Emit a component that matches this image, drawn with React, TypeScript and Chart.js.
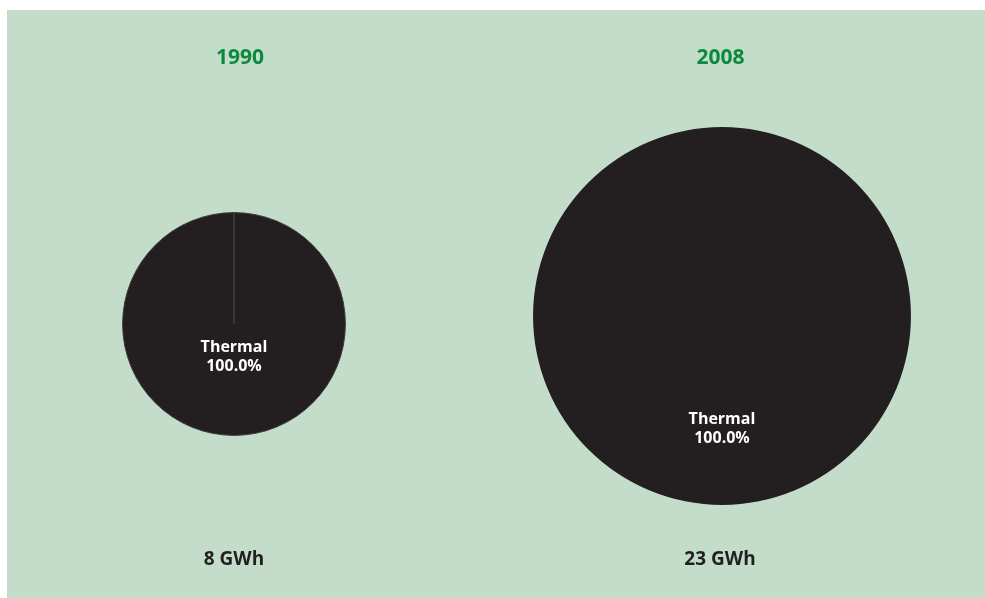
import React, { useEffect, useRef } from "react";
import { Chart, registerables } from "chart.js";

Chart.register(...registerables);

// ---- data ----
const years = ["1990", "2008"];
const totalsGWh = [8, 23];
const sourceLabels = ["Thermal"];
const shares1990 = [100.0];
const shares2008 = [100.0];
const sourceColors = ["#231f20"];

const BG = "#c4ddcb";
const GREEN = "#0b8a3e";
const DARK = "#231f20";
const FONT = "'Open Sans', 'DejaVu Sans', sans-serif";

type PanelCfg = {
  year: string;
  total: number;
  shares: number[];
  padRight: number;
  padTop: number;
  yearX: number;
  totalX: number;
  labelFrac: number;
  border: number;
};

const K = 39.4; // radius scale: area proportional to total

function makePlugin(cfg: PanelCfg) {
  return {
    id: "panelText",
    afterDraw(chart: any) {
      const ctx = chart.ctx as CanvasRenderingContext2D;
      ctx.save();
      ctx.textAlign = "center";
      ctx.textBaseline = "middle";
      ctx.fillStyle = GREEN;
      ctx.font = `bold 21px ${FONT}`;
      ctx.fillText(cfg.year, cfg.yearX, 48);
      ctx.fillStyle = DARK;
      ctx.font = `bold 19px ${FONT}`;
      ctx.fillText(`${cfg.total} GWh`, cfg.totalX, 550);

      const meta = chart.getDatasetMeta(0);
      meta.data.forEach((arc: any, i: number) => {
        const v = cfg.shares[i];
        if (!v) return;
        const mid = (arc.startAngle + arc.endAngle) / 2;
        const r = arc.outerRadius * cfg.labelFrac;
        const x = arc.x + Math.cos(mid) * r;
        const y = arc.y + Math.sin(mid) * r;
        ctx.fillStyle = "#ffffff";
        ctx.font = `bold 16px ${FONT}`;
        ctx.fillText(sourceLabels[i], x, y - 9.5);
        ctx.fillText(`${v.toFixed(1)}%`, x, y + 9.5);
      });
      ctx.restore();
    },
  };
}

function Panel({ cfg, left }: { cfg: PanelCfg; left: number }) {
  const ref = useRef<HTMLCanvasElement | null>(null);
  useEffect(() => {
    if (!ref.current) return;
    const chart = new Chart(ref.current, {
      type: "pie",
      data: {
        labels: sourceLabels,
        datasets: [
          {
            data: cfg.shares,
            backgroundColor: sourceColors,
            borderColor: "#423e3f",
            borderWidth: cfg.border,
            radius: K * Math.sqrt(cfg.total),
          } as any,
        ],
      },
      options: {
        responsive: false,
        animation: false,
        devicePixelRatio: 1,
        layout: { padding: { top: cfg.padTop, right: cfg.padRight, left: 0, bottom: 0 } },
        plugins: {
          legend: { display: false },
          tooltip: { enabled: false },
          title: { display: false },
        },
        events: [],
      },
      plugins: [makePlugin(cfg)],
    });
    return () => chart.destroy();
  }, []);
  return (
    <canvas
      ref={ref}
      width={489}
      height={588}
      style={{ position: "absolute", left, top: 0, width: 489, height: 588 }}
    />
  );
}

export default function App() {
  const panels: PanelCfg[] = [
    {
      year: years[0],
      total: totalsGWh[0],
      shares: shares1990,
      padRight: 35,
      padTop: 40,
      yearX: 233,
      totalX: 227,
      labelFrac: 0.3,
      border: 1,
    },
    {
      year: years[1],
      total: totalsGWh[1],
      shares: shares2008,
      padRight: 37,
      padTop: 24,
      yearX: 224.5,
      totalX: 224,
      labelFrac: 0.6,
      border: 0,
    },
  ];
  return (
    <div
      style={{
        position: "absolute",
        left: 7,
        top: 10,
        width: 978,
        height: 588,
        background: BG,
        overflow: "hidden",
      }}
    >
      <Panel cfg={panels[0]} left={0} />
      <Panel cfg={panels[1]} left={489} />
    </div>
  );
}
